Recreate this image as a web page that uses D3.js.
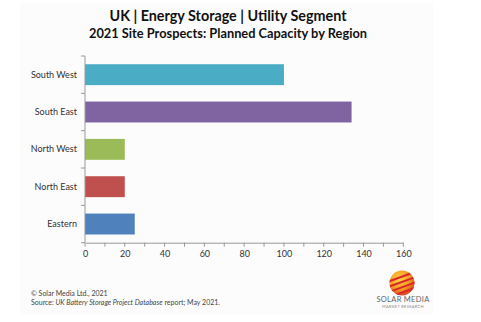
<!DOCTYPE html>
<html><head><meta charset="utf-8">
<script src="https://cdn.jsdelivr.net/npm/d3@7"></script>
<style>html,body{margin:0;padding:0;background:#fff;}svg{display:block;}</style>
</head><body>
<script>
const categories = ["South West", "South East", "North West", "North East", "Eastern"];
const values = [100, 134, 20, 20, 25];
const colors = ["#4bacc6", "#8064a2", "#9bbb59", "#c0504d", "#4f81bd"];
const xTicks = [0, 20, 40, 60, 80, 100, 120, 140, 160];
const minorTicks = d3.range(0, 161, 10);
const title1 = "UK | Energy Storage | Utility Segment";
const title2 = "2021 Site Prospects: Planned Capacity by Region";
const footer1 = "© Solar Media Ltd., 2021";

const W = 481, H = 322;
const font = "Lato, 'Open Sans', sans-serif";
const svg = d3.select("body").append("svg").attr("width", W).attr("height", H);
svg.append("rect").attr("x", 20).attr("y", 2).attr("width", 413).attr("height", 312).attr("fill", "#fcfcfc");

function fit(sel, w) { sel.attr("textLength", w).attr("lengthAdjust", "spacingAndGlyphs"); }

fit(svg.append("text").attr("x", 228).attr("y", 21).attr("text-anchor", "middle")
  .attr("font-family", font).attr("font-weight", "bold").attr("font-size", 15).attr("fill", "#111")
  .text(title1), 237);
fit(svg.append("text").attr("x", 228).attr("y", 38).attr("text-anchor", "middle")
  .attr("font-family", font).attr("font-weight", "bold").attr("font-size", 13).attr("fill", "#111")
  .text(title2), 278);

const x = d3.scaleLinear().domain([0, 160]).range([85, 403.3]);
const y = d3.scaleBand().domain(categories).range([56, 242.7]).paddingInner(0.44).paddingOuter(0.22);
const yb = d3.scaleBand().domain(categories).range([56, 242.7]);

const g = svg.append("g");
g.selectAll("rect.bar").data(categories).join("rect").attr("class", "bar")
  .attr("x", x(0)).attr("y", d => y(d))
  .attr("width", (d, i) => x(values[i]) - x(0)).attr("height", y.bandwidth())
  .attr("fill", (d, i) => colors[i]);

// y axis
g.append("line").attr("x1", x(0)).attr("x2", x(0)).attr("y1", 56).attr("y2", 242.7).attr("stroke", "#999");
const yTickPos = categories.map(c => yb(c)).concat([242.7]);
g.selectAll("line.yt").data(yTickPos).join("line").attr("class", "yt")
  .attr("x1", x(0) - 4).attr("x2", x(0)).attr("y1", d => d).attr("y2", d => d).attr("stroke", "#999");
g.selectAll("text.yl").data(categories).join("text").attr("class", "yl")
  .attr("x", 77).attr("y", d => yb(d) + yb.bandwidth() / 2 + 3)
  .attr("text-anchor", "end").attr("font-family", font).attr("font-size", 9).attr("fill", "#333")
  .text(d => d);

// x axis
const xAxis = d3.axisBottom(x).tickValues(xTicks).tickSize(0).tickPadding(8);
const xa = g.append("g").attr("transform", "translate(0,242.7)").call(xAxis);
xa.select(".domain").attr("stroke", "#999");
xa.selectAll("text").attr("font-family", font).attr("font-size", 9).attr("fill", "#333");
g.selectAll("line.xt").data(minorTicks).join("line").attr("class", "xt")
  .attr("x1", d => x(d)).attr("x2", d => x(d)).attr("y1", 242.7).attr("y2", 246.7).attr("stroke", "#999");

// footer
svg.append("text").attr("x", 31).attr("y", 296).attr("font-family", font).attr("font-size", 7).attr("fill", "#444").text(footer1);
const src = svg.append("text").attr("x", 31).attr("y", 305).attr("font-family", font).attr("font-size", 7).attr("fill", "#444");
src.append("tspan").text("Source: ");
src.append("tspan").attr("font-style", "italic").text("UK Battery Storage Project Database");
src.append("tspan").text(" report; May 2021.");

// logo
const defs = svg.append("defs");
const grad = defs.append("radialGradient").attr("id", "lg").attr("cx", "40%").attr("cy", "35%").attr("r", "70%");
grad.append("stop").attr("offset", "0%").attr("stop-color", "#ffd24a");
grad.append("stop").attr("offset", "60%").attr("stop-color", "#f39a1e");
grad.append("stop").attr("offset", "100%").attr("stop-color", "#d8342a");
svg.append("circle").attr("cx", 402).attr("cy", 283).attr("r", 12.5).attr("fill", "url(#lg)");
defs.append("clipPath").attr("id", "lc").append("circle").attr("cx", 402).attr("cy", 283).attr("r", 12.5);
const stripes = [-7, -2, 3, 8];
svg.append("g").attr("clip-path", "url(#lc)").selectAll("rect").data(stripes).join("rect")
  .attr("x", 385).attr("y", d => 283 + d).attr("width", 34).attr("height", 2)
  .attr("fill", "#d9262b").attr("transform", "rotate(-20,402,283)");
svg.append("text").attr("x", 403).attr("y", 302).attr("text-anchor", "middle").attr("font-family", font)
  .attr("font-size", 7.5).attr("fill", "#666").attr("letter-spacing", 0.3).text("SOLAR MEDIA");
svg.append("text").attr("x", 403).attr("y", 308).attr("text-anchor", "middle").attr("font-family", font)
  .attr("font-size", 4).attr("fill", "#888").attr("letter-spacing", 0.3).text("MARKET RESEARCH");
</script>
</body></html>
